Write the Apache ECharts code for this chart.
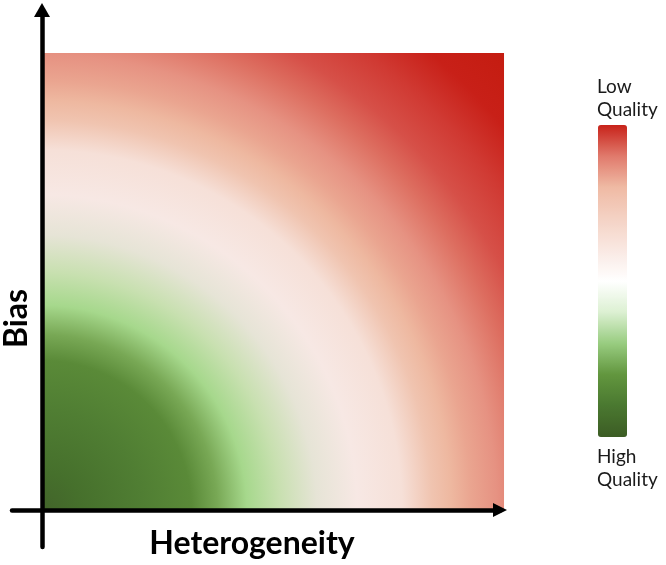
<!DOCTYPE html>
<html lang="en">
<head>
<meta charset="UTF-8">
<title>Quality map</title>
<style>
    html, body { margin: 0; padding: 0; background: #fff; }
    #main { width: 666px; height: 565px; }
</style>
<script src="https://cdn.jsdelivr.net/npm/echarts@6/dist/echarts.min.js"></script>
</head>
<body>
<div id="main"></div>
<script>
    // extent of the shaded square, in axis units
    var heterogeneityRange = [0, 1];
    var biasRange = [0, 1];

    // shading read outward from the origin (share of the corner to corner distance)
    var shadeStops = [0, 0.06, 0.155, 0.23, 0.27, 0.315, 0.366, 0.423, 0.485, 0.554,
        0.60, 0.63, 0.66, 0.70, 0.754, 0.80, 0.86, 0.923, 1];
    var shadeColors = ['#42642a', '#46702c', '#507e33', '#5a8a38', '#78a855', '#a6d88c', '#c8e0b0',
        '#e6e4d6', '#f7e8e4', '#f6e0d8', '#f0c4b0', '#eeb8a0', '#eaa590', '#e69282', '#dd6e60',
        '#d65048', '#d03a33', '#c82018', '#c41c10'];

    // colour bar, high quality (0) up to low quality (1)
    var legendColors = ['#3c5c24', '#4a7830', '#62963e', '#98cc80', '#dcf0d2', '#ffffff',
        '#f9e8e2', '#f4d2c4', '#efbaa4', '#e07a6c', '#c8221a'];
    var legendLabels = ['Low\nQuality', 'High\nQuality'];
    var axisNames = ['Heterogeneity', 'Bias'];

    var chart = echarts.init(document.getElementById('main'));

    function renderShade(params, api) {
        var p0 = api.coord([api.value(0), api.value(1)]);
        var p1 = api.coord([api.value(2), api.value(3)]);
        var w = p1[0] - p0[0];
        var h = p0[1] - p1[1];
        var r = Math.sqrt(w * w + h * h);
        var stops = shadeStops.map(function (s, i) {
            return {offset: s, color: shadeColors[i]};
        });
        return {
            type: 'rect',
            shape: {x: p0[0], y: p1[1], width: w, height: h},
            style: {fill: new echarts.graphic.RadialGradient(p0[0], p0[1], r, stops, true)}
        };
    }

    var nameFont = {fontFamily: 'Lato', fontWeight: 'bold', fontSize: 32, color: '#000'};
    var labelFont = {fontFamily: 'Lato', fontSize: 19, lineHeight: 23, fill: '#1a1a1a'};

    var option = {
        animation: false,
        grid: {left: 12, right: 166, top: 10, bottom: 18, containLabel: false, outerBoundsMode: 'none'},
        xAxis: {
            type: 'value', min: -0.0649, max: 0.9913, z: 10,
            axisLine: {onZero: true, symbol: ['none', 'triangle'], symbolSize: [14, 14],
                lineStyle: {color: '#000', width: 4.5}},
            axisTick: {show: false}, axisLabel: {show: false}, splitLine: {show: false},
            name: axisNames[0], nameLocation: 'middle', nameGap: -19,
            nameTextStyle: Object.assign({padding: [0, 8, 0, 0]}, nameFont)
        },
        yAxis: {
            type: 'value', min: -0.081, max: 1.0941, z: 10,
            axisLine: {onZero: true, symbol: ['none', 'triangle'], symbolSize: [16, 14],
                lineStyle: {color: '#000', width: 4.5}},
            axisTick: {show: false}, axisLabel: {show: false}, splitLine: {show: false},
            name: axisNames[1], nameLocation: 'middle', nameGap: -21,
            nameTextStyle: Object.assign({padding: [0, 80, 0, 0]}, nameFont)
        },
        visualMap: {
            type: 'continuous', min: 0, max: 1, seriesIndex: 0, dimension: 2,
            calculable: false, hoverLink: false,
            left: 598, top: 125, padding: 0,
            itemWidth: 29, itemHeight: 312,
            inRange: {color: legendColors}
        },
        graphic: [
            {type: 'text', left: 597, top: 75, style: Object.assign({text: legendLabels[0]}, labelFont)},
            {type: 'text', left: 597, top: 445, style: Object.assign({text: legendLabels[1]}, labelFont)}
        ],
        series: [{
            type: 'custom',
            renderItem: renderShade,
            encode: {x: [0, 2], y: [1, 3]},
            data: [[heterogeneityRange[0], biasRange[0], heterogeneityRange[1], biasRange[1]]]
        }]
    };
    chart.setOption(option);
</script>
</body>
</html>
